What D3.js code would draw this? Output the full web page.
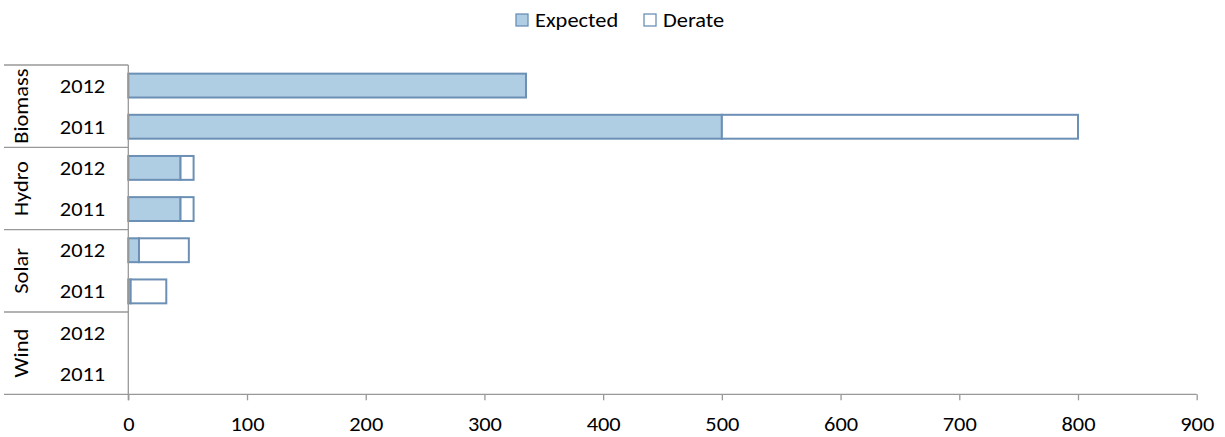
<!DOCTYPE html>
<html>
<head>
<meta charset="utf-8">
<script src="https://cdn.jsdelivr.net/npm/d3@7"></script>
<style>
  html, body { margin: 0; padding: 0; background: #fff; }
  svg text { font-family: Carlito, Calibri, Lato, sans-serif; fill: #000; }
</style>
</head>
<body>
<svg id="chart" width="1225" height="437"></svg>
<script>
// Generation by technology and year (MW): expected output and derate.
const categories = ["Biomass", "Hydro", "Solar", "Wind"];
const years = ["2012", "2011"];
const expected = [335, 500, 44, 44, 9, 2, 0, 0];
const derate   = [0, 300, 11, 11, 42, 30, 0, 0];
const xTicks = [0, 100, 200, 300, 400, 500, 600, 700, 800, 900];
const seriesNames = ["Expected", "Derate"];

const plot = { left: 128.3, right: 1196.7, top: 65, bottom: 394.3 };
const labelLeft = 4;
const fontSize = 20;
const stretch = 1.12;   // slightly wider glyphs, like the original typeface

const fillColors = ["#b0cee3", "#ffffff"];
const strokeColor = "#6c90b5";
const axisColor = "#989898";

const svg = d3.select("#chart");

// one row per (category, year)
const rows = [];
categories.forEach((c, ci) => {
  years.forEach((y, yi) => {
    const i = ci * years.length + yi;
    rows.push({ key: c + "|" + y, cat: c, year: y, expected: expected[i], derate: derate[i] });
  });
});

const x = d3.scaleLinear().domain([0, 900]).range([plot.left, plot.right]);
const yBand = d3.scaleBand()
  .domain(rows.map(r => r.key))
  .range([plot.top, plot.bottom])
  .paddingInner(0.42)
  .paddingOuter(0.21);
const step = yBand.step();

// stacked segments
const stack = d3.stack().keys(["expected", "derate"]);
const layers = stack(rows);

const g = svg.append("g");
layers.forEach((layer, li) => {
  g.selectAll(null)
    .data(layer.filter(d => d[1] - d[0] > 0))
    .enter().append("rect")
    .attr("x", d => x(d[0]))
    .attr("y", d => yBand(d.data.key))
    .attr("width", d => x(d[1]) - x(d[0]))
    .attr("height", yBand.bandwidth())
    .attr("fill", fillColors[li])
    .attr("stroke", strokeColor)
    .attr("stroke-width", 2);
});

// x axis
const xAxis = d3.axisBottom(x).tickValues(xTicks).tickSize(6).tickPadding(17);
const xg = svg.append("g")
  .attr("transform", `translate(0,${plot.bottom})`)
  .call(xAxis);
xg.select(".domain").remove();
xg.selectAll(".tick line").attr("stroke", axisColor).attr("stroke-width", 1.3);
xg.selectAll(".tick text")
  .attr("font-size", fontSize)
  .attr("font-family", null)
  .attr("transform", `scale(${stretch},1)`);

// horizontal baseline running under the category labels too
svg.append("line")
  .attr("x1", labelLeft).attr("x2", plot.right)
  .attr("y1", plot.bottom).attr("y2", plot.bottom)
  .attr("stroke", axisColor).attr("stroke-width", 1.3);

// vertical category axis
svg.append("line")
  .attr("x1", plot.left).attr("x2", plot.left)
  .attr("y1", plot.top).attr("y2", plot.bottom + 6)
  .attr("stroke", axisColor).attr("stroke-width", 1.3);

// group separators (top edge of each category block)
const groupTop = c => yBand(c + "|" + years[0]) - yBand.paddingOuter() * step;
categories.forEach(c => {
  svg.append("line")
    .attr("x1", labelLeft).attr("x2", plot.left)
    .attr("y1", groupTop(c)).attr("y2", groupTop(c))
    .attr("stroke", axisColor).attr("stroke-width", 1.3);
});

// year labels
svg.selectAll("text.year")
  .data(rows).enter().append("text")
  .attr("class", "year")
  .attr("transform", d => `translate(82.5,${yBand(d.key) + yBand.bandwidth() / 2}) scale(${stretch},1)`)
  .attr("dy", "0.35em")
  .attr("text-anchor", "middle")
  .attr("font-size", fontSize)
  .text(d => d.year);

// category labels, rotated
categories.forEach(c => {
  const cy = groupTop(c) + step * years.length / 2;
  svg.append("text")
    .attr("transform", `translate(21,${cy}) rotate(-90) scale(${stretch},1)`)
    .attr("dy", "0.35em")
    .attr("text-anchor", "middle")
    .attr("font-size", fontSize)
    .text(c);
});

// legend
const legend = svg.append("g").attr("class", "legend");
const legendX = [516, 644];
seriesNames.forEach((name, i) => {
  legend.append("rect")
    .attr("x", legendX[i]).attr("y", 14)
    .attr("width", 12).attr("height", 12)
    .attr("fill", fillColors[i])
    .attr("stroke", strokeColor).attr("stroke-width", 1.3);
  legend.append("text")
    .attr("transform", `translate(${legendX[i] + 19},20) scale(${stretch},1)`)
    .attr("dy", "0.35em")
    .attr("font-size", fontSize)
    .text(name);
});
</script>
</body>
</html>
